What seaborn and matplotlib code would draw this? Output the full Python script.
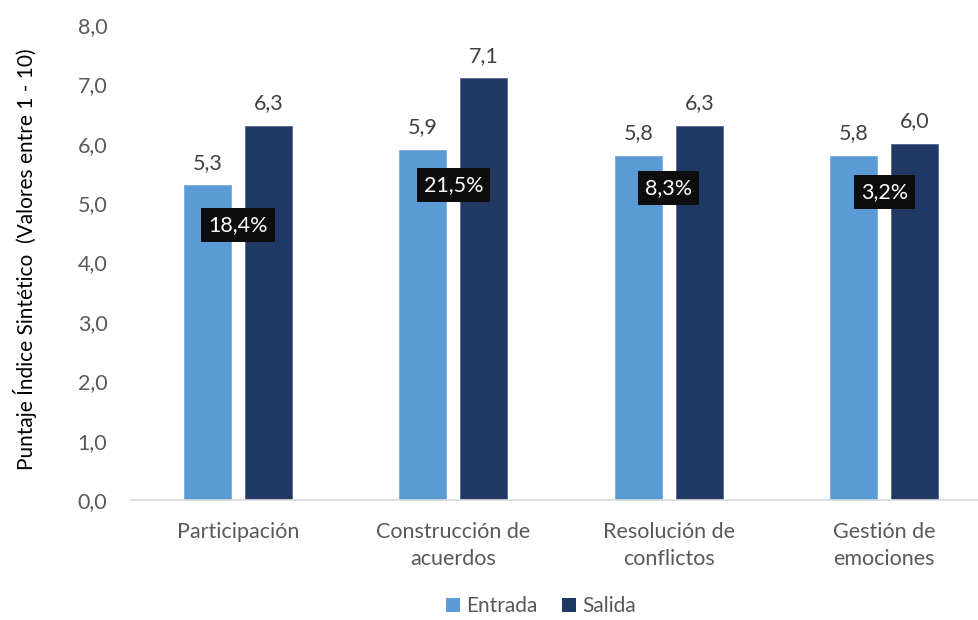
import matplotlib
matplotlib.use("Agg")
import matplotlib.pyplot as plt
from matplotlib.patches import Patch
from matplotlib.ticker import FuncFormatter
import seaborn as sns
import pandas as pd

# Data
categorias = ["Participación", "Construcción de\nacuerdos", "Resolución de\nconflictos", "Gestión de\nemociones"]
entrada = [5.3, 5.9, 5.8, 5.8]
salida = [6.3, 7.1, 6.3, 6.0]
variacion = ["18,4%", "21,5%", "8,3%", "3,2%"]
momentos = ["Entrada", "Salida"]

# Vertical placement of the change boxes (axis units)
variacion_y = [4.63, 5.31, 5.25, 5.19]

df = pd.DataFrame({
    "categoria": categorias * 2,
    "momento": [momentos[0]] * len(categorias) + [momentos[1]] * len(categorias),
    "puntaje": entrada + salida,
})

sns.set_theme(style="white")
plt.rcParams["font.family"] = ["Lato", "DejaVu Sans"]

colores = {"Entrada": "#5B9BD5", "Salida": "#203864"}
bordes = {"Entrada": "#7FB0E0", "Salida": "#5A6E93"}
gris = "#595959"

fig = plt.figure(figsize=(9.79, 6.2), dpi=100)
ax = fig.add_axes([131 / 979, 120 / 620, 848 / 979, 475 / 620])

sns.barplot(data=df, x="categoria", y="puntaje", hue="momento", order=categorias,
            hue_order=momentos, palette=colores, width=0.566, gap=0.23,
            legend=False, ax=ax, saturation=1)

for cont, m in zip(ax.containers, momentos):
    for p in cont:
        p.set_edgecolor(bordes[m])
        p.set_linewidth(0.7)
    ax.bar_label(cont, labels=[f"{v:.1f}".replace(".", ",") for v in cont.datavalues],
                 padding=9, fontsize=15.5, color="#404040")

for i, (txt, yv) in enumerate(zip(variacion, variacion_y)):
    ax.text(i, yv, txt, ha="center", va="center", fontsize=15.5, color="white", zorder=5,
            bbox=dict(boxstyle="square,pad=0.32", facecolor="#0D0D0D", edgecolor="none"))

ax.set_ylim(0, 8)
ax.set_xlim(-0.497, 3.44)
ax.set_yticks(range(0, 9))
ax.yaxis.set_major_formatter(FuncFormatter(lambda v, _: f"{v:.1f}".replace(".", ",")))
ax.tick_params(axis="y", length=0, pad=17, labelsize=15.5, labelcolor=gris)
ax.tick_params(axis="x", length=0, pad=16, labelsize=15.5, labelcolor=gris)
for lab in ax.get_xticklabels():
    lab.set_linespacing(1.45)
    lab.set_verticalalignment("top")
ax.set_xlabel("")
ax.set_ylabel("")
for s in ["left", "right", "top"]:
    ax.spines[s].set_visible(False)
ax.spines["bottom"].set_color("#D9D9D9")
ax.spines["bottom"].set_linewidth(1.2)

fig.text(25 / 979, 1 - 259 / 620, "Puntaje Índice Sintético  (Valores entre 1 - 10)",
         rotation=90, ha="center", va="center", fontsize=15, color="black")

handles = [Patch(facecolor=colores[m], edgecolor="none", label=m) for m in momentos]
fig.legend(handles=handles, loc="center", bbox_to_anchor=(541 / 979, 14 / 620), ncol=2,
           frameon=False, fontsize=15, labelcolor=gris, handlelength=0.65, handleheight=0.65,
           handletextpad=0.3, columnspacing=1.2)

fig.savefig("out.png", dpi=100)
